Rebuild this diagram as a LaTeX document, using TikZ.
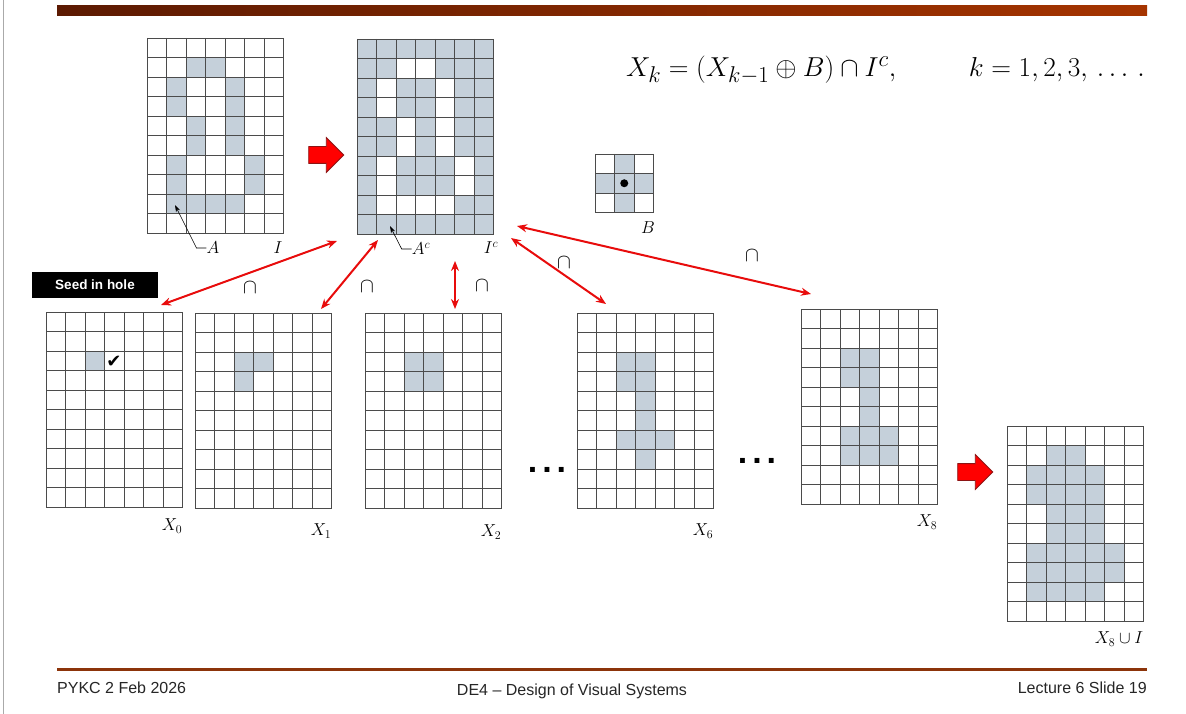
\documentclass[tikz,border=0pt]{standalone}
\usepackage{amsmath}
\usepackage{amssymb}
\usepackage{fontspec}
\newfontfamily\slidefont{Liberation Sans}
\newfontfamily\symfont{DejaVu Sans}
\usetikzlibrary{
  arrows.meta,
  positioning,
  calc,
  shapes.arrows
}
\definecolor{cellcolor}{RGB}{197, 208, 218}
\definecolor{gridcolor}{RGB}{75, 75, 75}
\definecolor{barleft}{RGB}{92, 26, 2}
\definecolor{barright}{RGB}{165, 52, 0}
\definecolor{footercolor}{RGB}{140, 52, 10}
\definecolor{linkcolor}{RGB}{232, 12, 12}
\definecolor{blockred}{RGB}{255, 0, 0}
\definecolor{blockdark}{RGB}{140, 20, 20}
\definecolor{edgecolor}{RGB}{170, 170, 170}
\tikzset{
gridframe/.style={
  minimum width=136.5pt,
  minimum height=195pt,
  inner sep=0pt,
  outer sep=0pt,
  anchor=north west
},
gridline/.style={
  draw=gridcolor,
  line width=0.65pt
},
gridlabel/.style={
  font=\fontsize{17}{20}\selectfont,
  inner sep=0pt
},
leader/.style={
  -{Stealth[length=7pt,width=4.5pt]},
  line width=0.6pt,
  draw=black
},
linkarrow/.style={
  {Stealth[length=10pt,width=8pt]}-{Stealth[length=10pt,width=8pt]},
  line width=2pt,
  draw=linkcolor
},
capsign/.style={
  font=\fontsize{22}{22}\selectfont,
  inner sep=0pt
},
stepblock/.style={
  single arrow,
  fill=blockred,
  draw=blockdark,
  line width=0.8pt,
  minimum height=35pt,
  inner xsep=0pt,
  inner ysep=8pt,
  single arrow head extend=9pt
},
seedtag/.style={
  fill=black,
  text=white,
  font=\slidefont\bfseries\fontsize{13.5}{15}\selectfont,
  minimum width=126pt,
  minimum height=26pt,
  inner sep=0pt
},
footertext/.style={
  font=\slidefont\fontsize{16}{18}\selectfont,
  text=black!85,
  inner sep=0pt
},
dotrow/.style={
  font=\slidefont\bfseries\fontsize{34}{34}\selectfont,
  inner sep=0pt
}
}
% name, x, y, background, cell colour, cells (row/col)
\newcommand{\pixgrid}[6]{%
  \node[gridframe, fill=#4] (#1) at (#2,#3) {};
  \foreach \r/\c in {#6}
    \fill[#5] ($(#1.north west)+(\c*19.5,\r*19.5)$) rectangle +(19.5,19.5);
  \foreach \i in {0,...,7}
    \draw[gridline] ($(#1.north west)+(\i*19.5,0)$) -- +(0,195);
  \foreach \j in {0,...,10}
    \draw[gridline] ($(#1.north west)+(0,\j*19.5)$) -- +(136.5,0);
}

\begin{document}
\begin{tikzpicture}[x=1pt, y=-1pt]
  \useasboundingbox (0,0) rectangle (1186,714);
  \fill[white] (0,0) rectangle (1186,714);
  \draw[edgecolor, line width=0.6pt] (3,0) -- (3,714);
  \shade[left color=barleft, right color=barright] (57,6) rectangle (1147,16);
  \draw[footercolor, line width=3pt] (57,669) -- (1147,669);

  \node[footertext, anchor=west] (date) at (57,688) {PYKC 2 Feb 2026};
  \node[footertext] (course) at (572,691) {DE4 – Design of Visual Systems};
  \node[footertext, anchor=east] (slide) at (1147,688) {Lecture 6 Slide 19};

  \node[anchor=west, inner sep=0pt, font=\fontsize{32}{36}\selectfont] (rule) at (626,70)
    {\scalebox{1.1}{$X_k = (X_{k-1}\oplus B)\cap I^c,\hspace{62pt}k = 1,2,3,\,\ldots\,.$}};

  \pixgrid{I}{147}{38}{white}{cellcolor}{1/2,1/3,2/1,2/4,3/1,3/4,4/2,4/4,5/2,5/4,6/1,6/5,7/1,7/5,8/1,8/2,8/3,8/4}
  \pixgrid{Ic}{357}{39}{cellcolor}{white}{1/2,1/3,2/1,2/4,3/1,3/4,4/2,4/4,5/2,5/4,6/1,6/5,7/1,7/5,8/1,8/2,8/3,8/4}
  \pixgrid{X0}{46}{312}{white}{cellcolor}{2/2}
  \pixgrid{X1}{195}{313}{white}{cellcolor}{2/2,2/3,3/2}
  \pixgrid{X2}{365}{313}{white}{cellcolor}{2/2,2/3,3/2,3/3}
  \pixgrid{X6}{577}{313}{white}{cellcolor}{2/2,2/3,3/2,3/3,4/3,5/3,6/2,6/3,6/4,7/3}
  \pixgrid{X8}{801}{309}{white}{cellcolor}{2/2,2/3,3/2,3/3,4/3,5/3,6/2,6/3,6/4,7/2,7/3,7/4}
  \pixgrid{XU}{1007}{426}{white}{cellcolor}{1/2,1/3,2/1,2/2,2/3,2/4,3/1,3/2,3/3,3/4,4/2,4/3,4/4,5/2,5/3,5/4,6/1,6/2,6/3,6/4,6/5,7/1,7/2,7/3,7/4,7/5,8/1,8/2,8/3,8/4}

  \node[gridframe, minimum width=58.5pt, minimum height=58.5pt, fill=white] (B) at (595,154) {};
  \foreach \r/\c in {0/1,1/0,1/1,1/2,2/1}
    \fill[cellcolor] ($(B.north west)+(\c*19.5,\r*19.5)$) rectangle +(19.5,19.5);
  \foreach \i in {0,...,3} {
    \draw[gridline] ($(B.north west)+(\i*19.5,0)$) -- +(0,58.5);
    \draw[gridline] ($(B.north west)+(0,\i*19.5)$) -- +(58.5,0);
  }
  \fill[black] (B.center) circle (4pt);

  \node[gridlabel] (lA) at (213,248) {$A$};
  \node[gridlabel] (lI) at (278,248) {$I$};
  \node[gridlabel] (lAc) at (421,249) {$A^c$};
  \node[gridlabel] (lIc) at (491,248) {$I^c$};
  \node[gridlabel] (lB) at (648,228) {$B$};
  \node[gridlabel, anchor=east] (lX0) at ([yshift=-19pt]X0.south east) {$X_0$};
  \node[gridlabel, anchor=east] (lX1) at ([yshift=-23pt]X1.south east) {$X_1$};
  \node[gridlabel, anchor=east] (lX2) at ([yshift=-24pt]X2.south east) {$X_2$};
  \node[gridlabel, anchor=east] (lX6) at ([yshift=-23pt]X6.south east) {$X_6$};
  \node[gridlabel, anchor=east] (lX8) at ([yshift=-18pt]X8.south east) {$X_8$};
  \node[gridlabel, anchor=east] (lXU) at ([yshift=-18pt]XU.south east) {$X_8\cup I$};

  \coordinate (tipA) at (175,205);
  \coordinate (tipAc) at (390,226);
  \draw[leader] (lA.west) -- ++(-10,0) -- (tipA);
  \draw[leader] (lAc.west) -- ++(-10,0) -- (tipAc);

  \node[stepblock] (step1) at (322,155) {};
  \node[stepblock] (step2) at (971,472) {};

  \node[seedtag] (seed) at (95,285) {Seed in hole};
  \node[inner sep=0pt, font=\symfont\fontsize{18}{18}\selectfont] (tick) at (114,362) {✔};

  \coordinate (c1a) at (337,241);
  \coordinate (c1b) at (161,305);
  \coordinate (c2a) at (378,240);
  \coordinate (c2b) at (321,309);
  \coordinate (c3a) at (455,261);
  \coordinate (c3b) at (455,309);
  \coordinate (c4a) at (511,238);
  \coordinate (c4b) at (606,304);
  \coordinate (c5a) at (517,226);
  \coordinate (c5b) at (811,294);
  \draw[linkarrow] (c1a) -- (c1b);
  \draw[linkarrow] (c2a) -- (c2b);
  \draw[linkarrow] (c3a) -- (c3b);
  \draw[linkarrow] (c4a) -- (c4b);
  \draw[linkarrow] (c5a) -- (c5b);
  \node[capsign] (cap1) at (250,288) {$\cap$};
  \node[capsign] (cap2) at (367,287) {$\cap$};
  \node[capsign] (cap3) at (482,286) {$\cap$};
  \node[capsign] (cap4) at (564,263) {$\cap$};
  \node[capsign] (cap5) at (752,256) {$\cap$};

  \node[dotrow] (dots1) at (547,470) {.\hspace{5pt}.\hspace{5pt}.};
  \node[dotrow] (dots2) at (757,461) {.\hspace{5pt}.\hspace{5pt}.};
\end{tikzpicture}
\end{document}
